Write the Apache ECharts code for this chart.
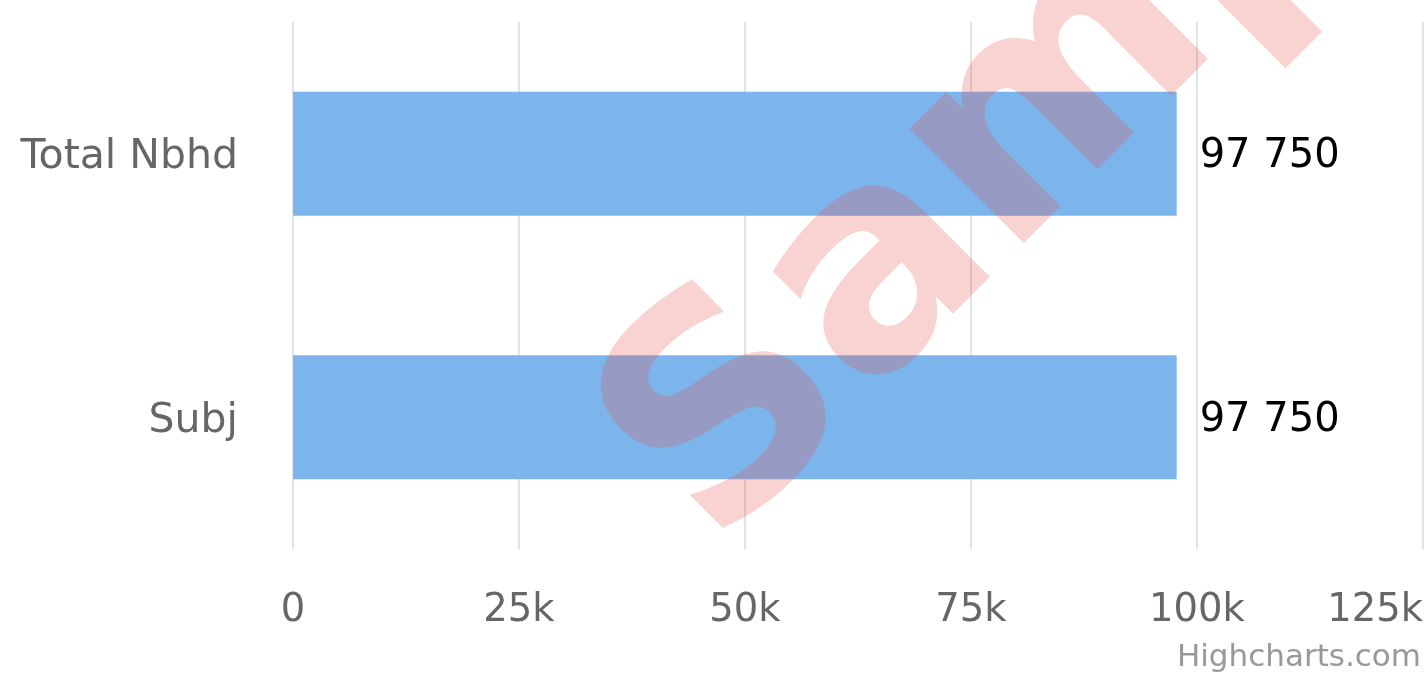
<!DOCTYPE html>
<html>
<head>
<meta charset="utf-8">
<style>
  html, body { margin: 0; padding: 0; background: #ffffff; }
  #chart { width: 1427px; height: 679px; }
</style>
<script src="https://cdn.jsdelivr.net/npm/echarts@6/dist/echarts.min.js"></script>
</head>
<body>
<div id="chart"></div>
<script>
// Categories, top to bottom
const categories = ['Total Nbhd', 'Subj'];
// Bar values
const values = [97750, 97750];
// Value axis range and step
const axisMin = 0;
const axisMax = 125000;
const axisStep = 25000;

const FONT = 'DejaVu Sans';

function formatThousands(v) {
  return String(v).replace(/\B(?=(\d{3})+(?!\d))/g, ' ');
}

const chart = echarts.init(document.getElementById('chart'), null, { renderer: 'canvas' });

chart.setOption({
  animation: false,
  backgroundColor: '#ffffff',
  grid: { left: 293, right: 4, top: 22, height: 527, containLabel: false },
  xAxis: {
    type: 'value',
    min: axisMin,
    max: axisMax,
    interval: axisStep,
    axisLine: { show: false },
    axisTick: { show: false },
    splitLine: { show: true, lineStyle: { color: '#e3e3e3', width: 2 } },
    axisLabel: {
      color: '#666666',
      fontFamily: FONT,
      fontSize: 38.5,
      margin: 42,
      alignMaxLabel: 'right',
      formatter: v => (v === 0 ? '0' : (v / 1000) + 'k')
    }
  },
  yAxis: {
    type: 'category',
    data: categories,
    inverse: true,
    axisLine: { show: false },
    axisTick: { show: false },
    splitLine: { show: false },
    axisLabel: {
      margin: 55,
      formatter: v => '{l|' + v + '}',
      rich: {
        l: {
          color: '#666666',
          fontFamily: FONT,
          fontSize: 41,
          padding: [8, 0, 0, 0]
        }
      }
    }
  },
  series: [{
    type: 'bar',
    data: values,
    barWidth: 124,
    itemStyle: { color: '#7cb5ec' },
    label: {
      show: true,
      position: 'right',
      distance: 23,
      offset: [0, 3],
      color: '#000000',
      fontFamily: FONT,
      fontSize: 40,
      formatter: p => formatThousands(p.value)
    }
  }],
  graphic: [
    {
      type: 'text',
      right: 6,
      bottom: 6,
      style: {
        text: 'Highcharts.com',
        fill: '#999999',
        font: '31px "DejaVu Sans"'
      },
      z: 10
    },
    {
      type: 'text',
      x: 660,
      y: 498,
      rotation: Math.PI / 4,
      style: {
        text: 'Sample',
        fill: 'rgba(231, 80, 76, 0.25)',
        font: 'bold 296px "DejaVu Sans"',
        align: 'left',
        verticalAlign: 'middle'
      },
      z: 100
    }
  ]
});
</script>
</body>
</html>
